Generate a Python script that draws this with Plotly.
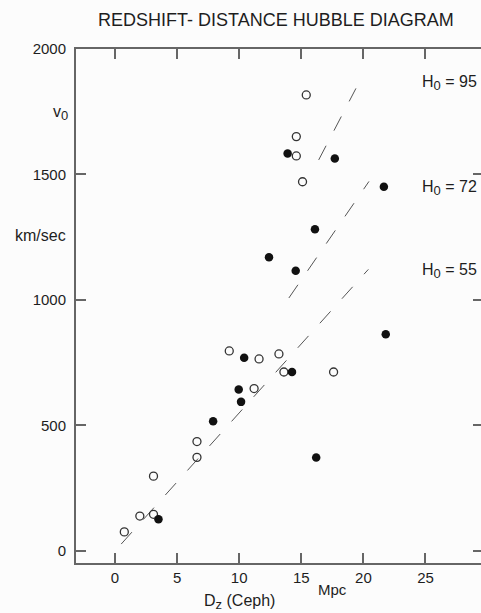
import plotly.graph_objects as go

# ---- data ----
open_D = [15.4, 14.6, 14.6, 15.1, 9.2, 11.6, 13.2, 13.6, 17.6, 11.2, 6.6, 6.6, 3.1, 2.0, 3.1, 0.75]
open_v = [1817, 1651, 1574, 1471, 797, 765, 785, 713, 713, 647, 436, 373, 298, 139, 146, 76]

filled_D = [13.9, 17.7, 21.65, 16.1, 12.4, 14.55, 21.8, 10.4, 14.25, 9.96, 10.15, 7.9, 16.2, 3.5]
filled_v = [1584, 1564, 1451, 1282, 1170, 1116, 863, 770, 713, 643, 594, 517, 372, 126]

H0_values = [55, 72, 95]
line_D_start = [0.5, 14.0, 16.4]
line_D_end = [20.4, 20.45, 19.4]
H0_label_v = [1115, 1445, 1863]

x_ticks = [0, 5, 10, 15, 20, 25]
y_ticks = [0, 500, 1000, 1500, 2000]

FONT = "Liberation Sans, Arial, sans-serif"
TXT = "#1e1e1e"
AX = "#666666"

fig = go.Figure()

for h, d0, d1 in zip(H0_values, line_D_start, line_D_end):
    fig.add_trace(go.Scatter(
        x=[d0, d1], y=[h * d0, h * d1], mode="lines",
        line=dict(color="#555555", width=1, dash="16px,17px"),
        showlegend=False, hoverinfo="skip"))

fig.add_trace(go.Scatter(
    x=open_D, y=open_v, mode="markers",
    marker=dict(symbol="circle-open", size=8, color="#333333", line=dict(width=1.3, color="#333333")),
    showlegend=False))
fig.add_trace(go.Scatter(
    x=filled_D, y=filled_v, mode="markers",
    marker=dict(symbol="circle", size=8.5, color="#111111"),
    showlegend=False))
fig.add_trace(go.Scatter(x=[None], y=[None], yaxis="y2", showlegend=False, hoverinfo="skip"))

fig.update_layout(
    width=481, height=613,
    margin=dict(l=76, r=0, t=49, b=50),
    paper_bgcolor="#fcfcfc", plot_bgcolor="#fcfcfc",
    font=dict(family=FONT, color=TXT, size=15),
    xaxis=dict(range=[-3.14, 29.47], tickvals=x_ticks, ticks="inside", ticklen=10,
               tickwidth=1.5, tickcolor=AX, showline=True, linecolor=AX, linewidth=2,
               mirror="ticks", showgrid=False, zeroline=False, tickfont=dict(size=15),
               ticklabelstandoff=0),
    yaxis=dict(range=[-48, 2000], tickvals=y_ticks, ticks="inside", ticklen=10,
               tickwidth=1.5, tickcolor=AX, showline=True, linecolor=AX, linewidth=2,
               showgrid=False, zeroline=False, tickfont=dict(size=15),
               ticklabelstandoff=5),
    yaxis2=dict(range=[-48, 2000], overlaying="y", side="right", tickvals=y_ticks,
                ticks="inside", ticklen=8, tickwidth=1.5, tickcolor=AX,
                showticklabels=False, showline=False, showgrid=False, zeroline=False),
)

SUB = '<sub><span style="font-size:13px">{}</span></sub>'
ann = [
    dict(text="REDSHIFT- DISTANCE HUBBLE DIAGRAM", x=0.495, y=1.0564, xref="paper", yref="paper",
         xanchor="center", yanchor="middle", font=dict(size=18)),
    dict(text="v" + SUB.format("0"), x=-0.0148, y=0.876, xref="paper", yref="paper",
         xanchor="right", yanchor="middle", font=dict(size=16)),
    dict(text="km/sec", x=-0.0198, y=0.638, xref="paper", yref="paper",
         xanchor="right", yanchor="middle", font=dict(size=16)),
    dict(text="D" + SUB.format("z") + " (Ceph)", x=0.4037, y=-0.0759, xref="paper", yref="paper",
         xanchor="center", yanchor="middle", font=dict(size=16)),
    dict(text="Mpc", x=0.6333, y=-0.0525, xref="paper", yref="paper",
         xanchor="center", yanchor="middle", font=dict(size=15)),
]
for h, v in zip(H0_values, H0_label_v):
    ann.append(dict(text="H" + SUB.format("0") + f" = {h}", x=24.56, y=v, xref="x", yref="y",
                    xanchor="left", yanchor="middle", font=dict(size=16)))
for a in ann:
    a["showarrow"] = False
fig.update_layout(annotations=ann)

fig.write_html("out.html")
